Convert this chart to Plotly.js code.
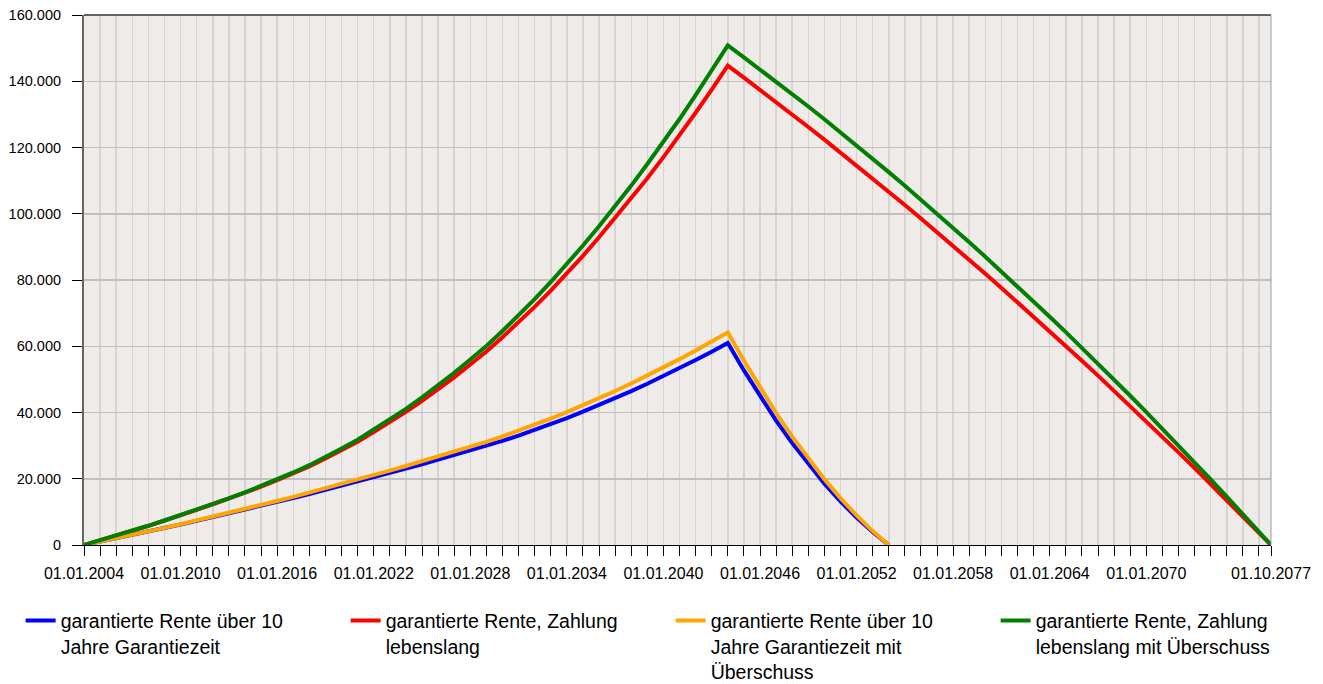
<!DOCTYPE html>
<html>
<head>
<meta charset="utf-8">
<script src="https://cdn.plot.ly/plotly-3.0.1.min.js"></script>
<style>
html,body{margin:0;padding:0;background:#fff;}
#chart{width:1323px;height:684px;}
</style>
</head>
<body>
<div id="chart"></div>
<script>
// Dates (01.01. of each year) and end date
const yearsLong = [2004,2005,2006,2007,2008,2009,2010,2011,2012,2013,2014,2015,2016,2017,2018,2019,2020,2021,2022,2023,2024,2025,2026,2027,2028,2029,2030,2031,2032,2033,2034,2035,2036,2037,2038,2039,2040,2041,2042,2043,2044,2045,2046,2047,2048,2049,2050,2051,2052,2053,2054,2055,2056,2057,2058,2059,2060,2061,2062,2063,2064,2065,2066,2067,2068,2069,2070,2071,2072,2073,2074,2075,2076,2077];
const endDate = '2077-10-01';
const yearsShort = [2004,2005,2006,2007,2008,2009,2010,2011,2012,2013,2014,2015,2016,2017,2018,2019,2020,2021,2022,2023,2024,2025,2026,2027,2028,2029,2030,2031,2032,2033,2034,2035,2036,2037,2038,2039,2040,2041,2042,2043,2044,2045,2046,2047,2048,2049,2050,2051,2052,2053,2054];

// Series values (EUR)
const blueValues = [0,990,1990,3010,4060,5110,6190,7280,8390,9520,10660,11820,13000,14190,15410,16640,17890,19150,20430,21740,23050,24390,25740,27110,28500,29900,31430,33030,34710,36480,38320,40240,42230,44300,46450,48680,50990,53370,55830,58370,60980,52700,44890,37570,30740,24400,18540,13170,8290,3900,0];
const orangeValues = [0,990,2000,3030,4090,5160,6260,7380,8520,9680,10860,12060,13290,14530,15800,17090,18400,19730,21080,22460,23850,25270,26710,28170,29650,31150,32780,34490,36280,38160,40120,42160,44280,46480,48760,51130,53580,56110,58720,61410,64180,55600,47480,39850,32700,26030,19850,14150,8930,4200,0];
const redValues = [0,1400,2800,4300,5800,7400,8900,10600,12300,14000,15800,17600,19600,21600,23700,26100,28600,31200,34100,37100,40200,43500,47000,50600,54500,58400,62700,67200,71900,76800,82000,87300,92900,98700,104600,110700,117100,123700,130500,137500,144700,141080,137420,133720,129970,126190,122370,118500,114600,110650,106670,102640,98570,94460,90310,86120,81890,77620,73310,68950,64560,60130,55650,51140,46580,41980,37340,32660,27950,23190,18380,13540,8660,3740,0];
const greenValues = [0,1400,2800,4300,5800,7400,9000,10700,12400,14100,15900,17800,19800,21900,24100,26500,29100,31800,34800,37900,41100,44600,48200,52000,56000,60100,64600,69300,74200,79400,84800,90400,96200,102300,108500,115000,121700,128600,135800,143200,150800,147220,143590,139900,136170,132370,128520,124620,120660,116650,112580,108460,104280,100050,95770,91430,87040,82590,78090,73530,68920,64250,59540,54760,49930,45050,40110,35120,30080,24970,19820,14610,9350,4030,0];

const seriesNames = [
  'garantierte Rente über 10<br>Jahre Garantiezeit',
  'garantierte Rente, Zahlung<br>lebenslang',
  'garantierte Rente über 10<br>Jahre Garantiezeit mit<br>Überschuss',
  'garantierte Rente, Zahlung<br>lebenslang mit Überschuss'
];
const seriesColors = ['#0000FF', '#FF0000', '#FFA500', '#008000'];
const seriesLegend = ['legend', 'legend', 'legend2', 'legend2'];

const tickDates = ['2004-01-01','2010-01-01','2016-01-01','2022-01-01','2028-01-01','2034-01-01','2040-01-01','2046-01-01','2052-01-01','2058-01-01','2064-01-01','2070-01-01','2077-10-01'];
const tickLabels = ['01.01.2004','01.01.2010','01.01.2016','01.01.2022','01.01.2028','01.01.2034','01.01.2040','01.01.2046','01.01.2052','01.01.2058','01.01.2064','01.01.2070','01.10.2077'];

const toDate = y => y + '-01-01';
const xLong = yearsLong.map(toDate).concat([endDate]);
const xShort = yearsShort.map(toDate);

const dataSets = [
  {x: xShort, y: blueValues},
  {x: xLong, y: redValues},
  {x: xShort, y: orangeValues},
  {x: xLong, y: greenValues}
];

const traces = dataSets.map((d, i) => ({
  type: 'scatter',
  mode: 'lines',
  x: d.x,
  y: d.y,
  name: seriesNames[i],
  legend: seriesLegend[i],
  line: {color: seriesColors[i], width: 4},
  hoverinfo: 'x+y'
}));

const FONT = 'Liberation Sans, Arial, sans-serif';

const legendBase = {
  orientation: 'h',
  xref: 'container',
  yref: 'container',
  xanchor: 'left',
  y: 0.1207,
  yanchor: 'top',
  valign: 'top',
  entrywidth: 280,
  entrywidthmode: 'pixels',
  font: {family: FONT, size: 19.5, color: '#000'},
  bgcolor: 'rgba(0,0,0,0)',
  tracegroupgap: 0,
  itemwidth: 30
};

const layout = {
  width: 1323,
  height: 684,
  margin: {l: 84, r: 52, t: 15, b: 139, pad: 0, autoexpand: false},
  paper_bgcolor: '#ffffff',
  plot_bgcolor: '#EEEBE8',
  separators: ',.',
  font: {family: FONT, color: '#000', size: 15},
  showlegend: true,
  xaxis: {
    type: 'date',
    range: ['2004-01-01', endDate],
    tickmode: 'array',
    tickvals: tickDates,
    ticktext: tickLabels,
    ticks: 'outside',
    ticklen: 10,
    tickwidth: 1,
    tickcolor: '#000',
    ticklabelstandoff: 4,
    tickfont: {family: FONT, size: 16, color: '#000'},
    showgrid: true,
    gridcolor: '#D6D3D0',
    gridwidth: 1.5,
    showline: true,
    linecolor: '#000',
    linewidth: 1,
    zeroline: false,
    fixedrange: true,
    minor: {
      dtick: 'M12',
      tick0: '2004-01-01',
      ticks: 'outside',
      ticklen: 10,
      tickwidth: 1,
      tickcolor: '#000',
      showgrid: true,
      gridcolor: '#D6D3D0',
      gridwidth: 1.5
    }
  },
  yaxis: {
    range: [0, 160000],
    tickmode: 'linear',
    tick0: 0,
    dtick: 20000,
    tickformat: ',d',
    ticksuffix: '\u00a0\u00a0',
    ticks: 'outside',
    ticklen: 10,
    tickwidth: 1,
    tickcolor: '#000',
    tickfont: {family: FONT, size: 14.5, color: '#000'},
    showgrid: true,
    gridcolor: '#C2C0BE',
    gridwidth: 1.5,
    showline: true,
    linecolor: '#666',
    linewidth: 2,
    zeroline: false,
    fixedrange: true
  },
  shapes: [
    {type: 'line', xref: 'paper', yref: 'paper', x0: 0, x1: 1, y0: 1, y1: 1, line: {color: '#333', width: 1.5}},
    {type: 'line', xref: 'paper', yref: 'paper', x0: 1, x1: 1, y0: 0, y1: 1, line: {color: '#999', width: 1}}
  ],
  legend: Object.assign({}, legendBase, {x: 0.0156}),
  legend2: Object.assign({}, legendBase, {x: 0.5069})
};

Plotly.newPlot('chart', traces, layout, {displayModeBar: false, staticPlot: true});
</script>
</body>
</html>
